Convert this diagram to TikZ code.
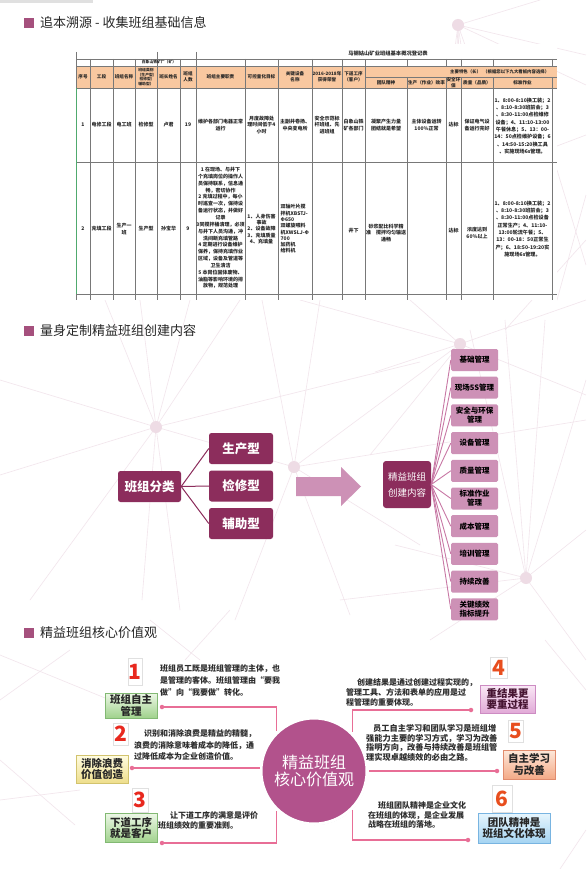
\documentclass[tikz,border=0pt]{standalone}
\usepackage{fontspec}
\setmainfont{Noto Sans CJK SC}
\XeTeXlinebreaklocale "zh"
\XeTeXlinebreakskip=0pt plus 1pt
\usetikzlibrary{shadows}
\definecolor{hdr}{RGB}{165,80,125}
\definecolor{darkmag}{RGB}{140,45,92}
\definecolor{lightmag}{RGB}{205,145,182}
\definecolor{fanline}{RGB}{200,120,165}
\definecolor{coremag}{RGB}{178,82,140}
\definecolor{linkpink}{RGB}{232,110,150}
\definecolor{numred}{RGB}{232,40,30}
\definecolor{numorg}{RGB}{232,78,30}
\definecolor{webline}{RGB}{242,229,236}
\definecolor{webdot}{RGB}{238,220,229}
\definecolor{thead}{RGB}{249,200,160}
\definecolor{tlc}{RGB}{120,120,120}
\definecolor{tgreen}{RGB}{80,170,110}
\definecolor{txtgray}{RGB}{45,45,45}
\definecolor{gtop}{RGB}{236,247,230}\definecolor{gbot}{RGB}{160,210,140}\definecolor{gbrd}{RGB}{130,185,115}
\definecolor{ytop}{RGB}{255,252,225}\definecolor{ybot}{RGB}{238,222,140}\definecolor{ybrd}{RGB}{210,195,110}
\definecolor{ptop}{RGB}{250,232,246}\definecolor{pbot}{RGB}{225,170,215}\definecolor{pbrd}{RGB}{205,140,195}
\definecolor{otop}{RGB}{253,232,218}\definecolor{obot}{RGB}{244,170,135}\definecolor{obrd}{RGB}{225,140,110}
\definecolor{btop}{RGB}{230,245,253}\definecolor{bbot}{RGB}{165,212,242}\definecolor{bbrd}{RGB}{120,180,225}
\begin{document}
\begin{tikzpicture}[x=1pt,y=-1pt,
  sectitle/.style={anchor=west, font=\fontsize{13}{13}\selectfont, text=black!85, inner sep=0},
  darkbox/.style={rectangle, rounded corners=2.5pt, fill=darkmag, text=white, font=\fontsize{12.5}{13}\selectfont\bfseries, minimum width=64pt, minimum height=31pt, inner sep=0},
  lightbox/.style={rectangle, rounded corners=1.5pt, fill=lightmag, text=black, font=\fontsize{7.5}{9.3}\selectfont\bfseries, minimum width=47pt, minimum height=22pt, inner sep=0, align=center},
  fan/.style={draw=fanline, line width=0.9pt},
  branch/.style={draw=darkmag, line width=1pt},
  valbox/.style={rectangle, font=\fontsize{10.5}{11.5}\selectfont\bfseries, text=black!85, align=center, inner sep=0, draw=#1brd, top color=#1top, bottom color=#1bot, drop shadow={opacity=0.25, shadow xshift=0.8pt, shadow yshift=-0.8pt}},
  numcard/.style={rectangle, fill=white, draw=black!12, font=\fontsize{21}{21}\selectfont\bfseries, inner sep=0},
  desc/.style={anchor=north west, align=left, inner sep=0, text=txtgray},
  link/.style={draw=linkpink, line width=1.1pt},
  linkdot/.style={circle, fill=linkpink, inner sep=0, minimum size=4.5pt},
  web/.style={draw=webline, line width=0.6pt},
  webnode/.style={circle, fill=webdot, inner sep=0, minimum size=12pt},
  tl/.style={draw=tlc, line width=0.45pt},
  cell/.style={inner sep=0, align=center, font=\fontsize{4.6}{5.8}\selectfont\bfseries, text=black!85},
  rc/.style={cell, font=\fontsize{5}{6.3}\selectfont\bfseries},
  sched/.style={cell, font=\fontsize{5.1}{7.3}\selectfont\bfseries}
]
\useasboundingbox (0,0) rectangle (586,869);
\fill[white] (0,0) rectangle (586,869);
\fill[black!12] (0,0) rectangle (93,3);

% decorative web
\foreach \xa/\ya/\xb/\yb in {
 458/25/440/160, 458/25/452/160, 458/25/462/160, 458/25/478/160, 458/25/505/160, 458/25/586/55, 458/25/586/85, 458/25/540/0,
 520/160/586/135, 557/300/586/195, 557/170/586/265, 505/330/586/240,
 156/427/105/300, 156/427/140/300, 156/427/190/300, 156/427/240/300, 156/427/0/380, 156/427/0/475, 156/427/30/600, 156/427/142/600, 156/427/180/610, 156/427/294/467, 156/427/420/362,
 294/467/320/300, 294/467/262/300, 294/467/420/545, 294/467/350/615, 294/467/235/620, 294/467/460/344, 294/467/586/420,
 460/344/300/300, 460/344/410/300, 460/344/586/300, 460/344/586/395, 460/344/375/372, 460/344/370/455,
 526/578/470/330, 526/578/505/320, 526/578/545/320, 526/578/586/380, 526/578/586/530, 526/578/395/545, 526/578/430/640, 526/578/586/660, 526/578/340/600,
 0/655/110/700, 0/700/70/650, 0/800/80/790, 0/760/75/825, 150/620/200/660, 230/610/185/660, 586/690/545/640, 586/830/560/869}
 \draw[web] (\xa,\ya) -- (\xb,\yb);
\node[webnode] (wt) at (458,25) {};
\node[webnode] (wa) at (156,427) {};
\node[webnode] (wb) at (294,467) {};
\node[webnode] (wc) at (460,344) {};
\node[webnode] (wd) at (526,578) {};

% section headers
\fill[hdr] (24,18) rectangle (34,28);
\node[sectitle] (s1) at (40,23) {追本溯源 - 收集班组基础信息};
\fill[hdr] (24,326) rectangle (34,336);
\node[sectitle] (s2) at (40,331) {量身定制精益班组创建内容};
\fill[hdr] (24,628) rectangle (34,638);
\node[sectitle] (s3) at (40,633) {精益班组核心价值观};

% ===== table =====
\fill[white] (68,44) rectangle (557,300);
\begin{scope}
\clip (70,44) rectangle (557,300);
\fill[thead] (76,66) rectangle (557,88);
\foreach \x in {76,157,196} \draw[tl] (\x,52) -- (\x,300);
\foreach \x in {90,113,135,180,245,278,312,342,365} \draw[tl] (\x,59) -- (\x,300);
\foreach \x in {407,446,461,493,552} {\draw[tl] (\x,59) -- (\x,66); \draw[tl] (\x,77) -- (\x,300);}
\foreach \y in {59,66,88,162,294} \draw[tl] (76,\y) -- (557,\y);
\draw[tl] (365,77) -- (557,77);
\draw[tgreen, line width=1pt] (76,88) -- (76,294);
\node[cell, font=\fontsize{5.3}{6}\selectfont\bfseries] (ttl) at (388,53.5) {马钢姑山矿业班组基本概况登记表};
\node[cell, font=\fontsize{3.8}{4.5}\selectfont\bfseries] (mine) at (159,62.5) {白象山铁矿厂（矿）};
% header
\node[cell] (h1) at (83,77) {序号};
\node[cell] (h2) at (101.5,77) {工段};
\node[cell] (h3) at (124,77) {班组名称};
\node[cell, font=\fontsize{3.8}{4.5}\selectfont\bfseries] (h4) at (146,77) {班组类别\\（生产型/\\检修型/\\辅助型）};
\node[cell] (h5) at (168.5,77) {班长姓名};
\node[cell] (h6) at (188,77) {班组\\人数};
\node[cell] (h7) at (220.5,77) {班组主要职责};
\node[cell] (h8) at (261.5,77) {可控量化目标};
\node[cell] (h9) at (295,77) {关键设备\\名称};
\node[cell] (h10) at (327,77) {2016-2018年\\获得荣誉};
\node[cell] (h11) at (353.5,77) {下道工序\\（客户）};
\node[cell, anchor=west, font=\fontsize{4.4}{5}\selectfont\bfseries] (h12) at (450,71.5) {主要特色（长）\enspace（根据您以下九大看板内容选择）};
\node[cell] (h13) at (386,82.5) {团队精神};
\node[cell] (h14) at (426.5,82.5) {生产（作业）效率};
\node[cell] (h15) at (453.5,82.5) {安全环\\保};
\node[cell] (h16) at (477,82.5) {质量（品质）};
\node[cell] (h17) at (522.5,82.5) {标准作业};
% row 1
\node[rc] (a1) at (83,125) {1};
\node[rc] (a2) at (101.5,125) {电修工段};
\node[rc] (a3) at (124,125) {电工班};
\node[rc] (a4) at (146,125) {检修型};
\node[rc] (a5) at (168.5,125) {卢君};
\node[rc] (a6) at (188,125) {19};
\node[rc] (a7) at (220.5,125) {维护各部门电器正常\\运行};
\node[rc] (a8) at (261.5,125) {月度故障处\\理时间低于4\\小时};
\node[rc] (a9) at (295,125) {主副井卷扬、\\中央变电所};
\node[rc] (a10) at (327,125) {安全示范标\\杆班组、先\\进班组};
\node[rc] (a11) at (353.5,125) {白象山铁\\矿各部门};
\node[rc] (a12) at (386,125) {凝聚产生力量\\团结就是希望};
\node[rc] (a13) at (426.5,125) {主体设备运转\\100\%正常};
\node[rc] (a14) at (453.5,125) {达标};
\node[rc] (a15) at (477,125) {保证电气设\\备运行完好};
\node[sched] (a16) at (522.5,126) {1、8:00-8:10换工装；2\\、8:10-8:30班前会；3\\、8:30-11:00点检维修\\设备；4、11:10-13:00\\午餐休息；5、13：00-\\14：50点检维护设备；6\\、14:50-15:20换工具\\、实施现场6s管理。};
% row 2
\node[rc] (b1) at (83,229) {2};
\node[rc] (b2) at (101.5,229) {充填工段};
\node[rc] (b3) at (124,229) {生产一\\班};
\node[rc] (b4) at (146,229) {生产型};
\node[rc] (b5) at (168.5,229) {孙宝华};
\node[rc] (b6) at (188,229) {9};
\node[rc, font=\fontsize{5}{6.85}\selectfont\bfseries] (b7) at (220.5,228) {1 在现场、与井下\\个充填岗位的操作人\\员保持联系，信息通\\畅，密切协作\\2 充填过程中，每小\\时巡查一次，保持设\\备运行状态，并做好\\记录\\3同搅拌桶清理，必须\\与井下人员沟通，冲\\洗间断充填管路\\4 定期进行设备维护\\保养，保持充填作业\\区域，设备及管道等\\卫生清洁\\5 本岗位固体废物、\\油脂等影响环境的排\\放物，规范处理};
\node[rc] (b8) at (261.5,229) {1、人身伤害\\事故\\2、设备故障\\3、充填质量\\4、充填量};
\node[rc, align=left, anchor=west] (b9) at (280.5,229) {双轴叶片搅\\拌机XBSTJ-\\Φ650\\双螺旋喂料\\机XWSLJ-Φ\\700\\加药机\\给料机};
\node[rc] (b11) at (353.5,231) {井下};
\node[rc] (b12) at (386,233) {砂浆配比科学精\\准　搅拌均匀输送\\通畅};
\node[rc] (b14) at (453.5,231) {达标};
\node[rc] (b15) at (477,233) {浓度达到\\60\%以上};
\node[sched] (b16) at (522.5,229) {1、8:00-8:10换工装；2\\、8:10-8:30班前会；3\\、8:30-11:00点检设备\\正常生产；4、11:10-\\13:00轮流午餐；5、\\13：00-18：50正常生\\产；6、18:50-19:20实\\施现场6s管理。};
\end{scope}

% ===== middle section =====
\node[darkbox, minimum width=63pt] (cls) at (149.5,486.5) {班组分类};
\node[darkbox] (tp1) at (241,448.5) {生产型};
\node[darkbox] (tp2) at (241,486) {检修型};
\node[darkbox] (tp3) at (241,523.5) {辅助型};
\foreach \k in {1,2,3} \draw[branch] (cls.east) -- (tp\k.west);
\fill[lightmag] (296,477) -- (341,477) -- (341,467) -- (361,486.5) -- (341,506) -- (341,496) -- (296,496) -- cycle;
\node[rectangle, rounded corners=3pt, fill=darkmag, text=white, minimum width=48pt, minimum height=47pt, font=\fontsize{9.5}{16}\selectfont, align=center, inner sep=0] (jy) at (407,484.5) {精益班组\\创建内容};
\foreach \i/\t in {1/基础管理, 2/现场5S管理, 3/{安全与环保\\管理}, 4/设备管理, 5/质量管理, 6/{标准作业\\管理}, 7/成本管理, 8/培训管理, 9/持续改善, 10/{关键绩效\\指标提升}}{
  \node[lightbox] (mk\i) at (474.5,{360+27.7*(\i-1)}) {\t};
  \draw[fan] (jy.east) -- (mk\i.west);
}

% ===== bottom section =====
\node[circle, fill=coremag, draw=white, line width=3pt, minimum size=106pt, inner sep=0,
  drop shadow={opacity=0.35, shadow xshift=0.6pt, shadow yshift=-1pt},
  text=white, font=\fontsize{16}{17.5}\selectfont, align=center] (core) at (314,771) {精益班组\\核心价值观};

\node[linkdot] (d1) at (162,707) {};
\node[linkdot] (d2) at (132,768) {};
\node[linkdot] (d3) at (162,843) {};
\node[linkdot] (d4) at (471,710) {};
\node[linkdot] (d5) at (497,771) {};
\node[linkdot] (d6) at (468,840) {};
\draw[link] (d1.center) -- (core.133 |- d1.center) -- (core.133);
\draw[link] (d2.center) -- (d2.center -| core.west);
\draw[link] (d3.center) -- (core.-133 |- d3.center) -- (core.-133);
\draw[link] (d4.center) -- (core.45 |- d4.center) -- (core.45);
\draw[link] (d5.center) -- (d5.center -| core.east);
\draw[link] (d6.center) -- (core.-45 |- d6.center) -- (core.-45);

\node[numcard, text=numred, minimum width=14pt, minimum height=27pt] (n1) at (135,671.5) {1};
\node[numcard, text=numred, minimum width=15pt, minimum height=22pt] (n2) at (120.5,734) {2};
\node[numcard, text=numred, minimum width=16pt, minimum height=24pt] (n3) at (140,800) {3};
\node[numcard, text=numorg, minimum width=17pt, minimum height=21pt] (n4) at (498.5,667.5) {4};
\node[numcard, text=numorg, minimum width=15pt, minimum height=22pt] (n5) at (515.5,731) {5};
\node[numcard, text=numorg, minimum width=20pt, minimum height=27pt] (n6) at (502,798.5) {6};

\node[valbox=g, minimum width=52pt, minimum height=25pt] (v1) at (131,705.5) {班组自主\\管理};
\node[valbox=y, minimum width=52pt, minimum height=28pt] (v2) at (102,769) {消除浪费\\价值创造};
\node[valbox=g, minimum width=52pt, minimum height=29pt] (v3) at (131,828) {下道工序\\就是客户};
\node[valbox=p, minimum width=55pt, minimum height=28pt, text={rgb,255:red,70;green,20;blue,50}] (v4) at (507.5,699) {重结果更\\要重过程};
\node[valbox=o, minimum width=52pt, minimum height=29pt] (v5) at (529,764.5) {自主学习\\与改善};
\node[valbox=b, minimum width=72pt, minimum height=30pt] (v6) at (514,828) {团队精神是\\班组文化体现};

\node[desc, font=\fontsize{8}{11.7}\selectfont\bfseries] (t1) at (160,664.6) {班组员工既是班组管理的主体，也\\是管理的客体。班组管理由“要我\\做”向“我要做”转化。};
\node[desc, font=\fontsize{8}{11.6}\selectfont\bfseries] (t2) at (134,729.6) {\hspace*{10pt}识别和消除浪费是精益的精髓，\\浪费的消除意味着成本的降低，通\\过降低成本为企业创造价值。};
\node[desc, font=\fontsize{8}{10}\selectfont\bfseries] (t3) at (158,811.6) {\hspace*{12pt}让下道工序的满意是评价\\班组绩效的重要准则。};
\node[desc, font=\fontsize{8}{9.7}\selectfont\bfseries] (t4) at (346,678.6) {\hspace*{11pt}创建结果是通过创建过程实现的，\\管理工具、方法和表单的应用是过\\程管理的重要体现。};
\node[desc, font=\fontsize{8.2}{9.5}\selectfont\bfseries] (t5) at (366,724.3) {\hspace*{7pt}员工自主学习和团队学习是班组增\\强能力主要的学习方式，学习为改善\\指明方向，改善与持续改善是班组管\\理实现卓越绩效的必由之路。};
\node[desc, font=\fontsize{8}{9.6}\selectfont\bfseries] (t6) at (368,801.6) {\hspace*{10pt}班组团队精神是企业文化\\在班组的体现，是企业发展\\战略在班组的落地。};
\end{tikzpicture}
\end{document}
